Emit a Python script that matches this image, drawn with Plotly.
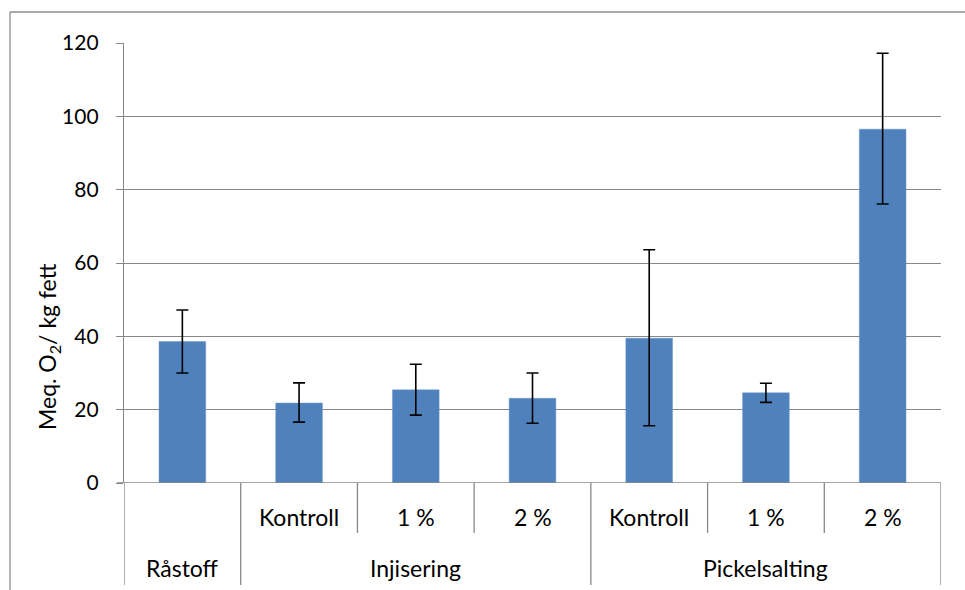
import plotly.graph_objects as go

# Data
groups = ["Råstoff", "Injisering", "Injisering", "Injisering", "Pickelsalting", "Pickelsalting", "Pickelsalting"]
subcats = ["", "Kontroll", "1 %", "2 %", "Kontroll", "1 %", "2 %"]
values = [38.6, 21.8, 25.4, 23.1, 39.5, 24.6, 96.5]
err_high = [47.2, 27.3, 32.4, 30.0, 63.6, 27.2, 117.2]
err_low = [30.0, 16.6, 18.5, 16.3, 15.6, 22.0, 76.1]
y_ticks = [0, 20, 40, 60, 80, 100, 120]

FONT = "Lato"
FS = 23
TICK_FS = 21
GRID = "#878787"
L, R, T, B = 124, 24, 43, 107
W, H = 965, 590
PW, PH = W - L - R, H - T - B

def px_x(px):
    return (px - L) / PW

def px_y(py):
    return (H - B - py) / PH

xs = list(range(len(values)))
plus = [h - v for h, v in zip(err_high, values)]
minus = [v - l for v, l in zip(values, err_low)]

fig = go.Figure()
fig.add_trace(go.Bar(
    x=xs, y=values, width=0.4,
    marker=dict(color="#4F81BD", line=dict(color="#6f97c8", width=0.5)),
    error_y=dict(type="data", symmetric=False, array=plus, arrayminus=minus,
                 color="black", thickness=1.6, width=6),
    showlegend=False, hoverinfo="skip",
))

shapes = []
annotations = []
n = len(values)
bounds = [0]
for i in range(1, n):
    if groups[i] != groups[i - 1]:
        bounds.append(i)
bounds.append(n)

shapes.append(dict(type="line", xref="paper", yref="y", x0=px_x(117), x1=1, y0=0, y1=0,
                   line=dict(color=GRID, width=1.3)))
for b in bounds:
    shapes.append(dict(type="line", xref="x", yref="paper", x0=b - 0.5, x1=b - 0.5,
                       y0=0, y1=px_y(585), line=dict(color=GRID, width=1.3)))
for i in range(1, n):
    if groups[i] == groups[i - 1]:
        shapes.append(dict(type="line", xref="x", yref="paper", x0=i - 0.5, x1=i - 0.5,
                           y0=0, y1=px_y(533), line=dict(color=GRID, width=1.3)))
for i, s in enumerate(subcats):
    if s:
        annotations.append(dict(x=i, y=px_y(517), xref="x", yref="paper", text=s,
                                xanchor="center", yanchor="middle",
                                showarrow=False, font=dict(family=FONT, size=FS, color="black")))
for a, b in zip(bounds[:-1], bounds[1:]):
    annotations.append(dict(x=(a + b - 1) / 2, y=px_y(568), xref="x", yref="paper", text=groups[a],
                            xanchor="center", yanchor="middle",
                            showarrow=False, font=dict(family=FONT, size=FS, color="black")))
annotations.append(dict(x=px_x(48), y=px_y(347), xref="paper", yref="paper",
                        xanchor="center", yanchor="middle",
                        text="Meq. O<sub>2</sub>/ kg fett", textangle=-90, showarrow=False,
                        font=dict(family=FONT, size=FS, color="black")))
shapes.append(dict(type="line", xref="paper", yref="paper", x0=px_x(10), x1=px_x(10),
                   y0=px_y(12), y1=px_y(600), line=dict(color="#8c8c8c", width=1.3)))
shapes.append(dict(type="line", xref="paper", yref="paper", x0=px_x(10), x1=px_x(970),
                   y0=px_y(12), y1=px_y(12), line=dict(color="#8c8c8c", width=1.3)))

fig.update_layout(
    width=W, height=H,
    margin=dict(l=L, r=R, t=T, b=B),
    paper_bgcolor="white", plot_bgcolor="white",
    shapes=shapes, annotations=annotations,
    xaxis=dict(range=[-0.5, n - 0.5], showticklabels=False, showgrid=False, zeroline=False,
               fixedrange=True),
    yaxis=dict(range=[0, 120], tickvals=y_ticks, showgrid=True, gridcolor=GRID, gridwidth=1.3,
               zeroline=False, showline=True, linecolor=GRID, linewidth=1.3,
               ticks="outside", ticklen=7, tickcolor=GRID, tickwidth=1.3,
               tickfont=dict(family=FONT, size=TICK_FS, color="black"), ticklabelstandoff=13),
)

fig.write_html("out.html", config={"displayModeBar": False},
               post_script="document.body.style.margin='0';")
